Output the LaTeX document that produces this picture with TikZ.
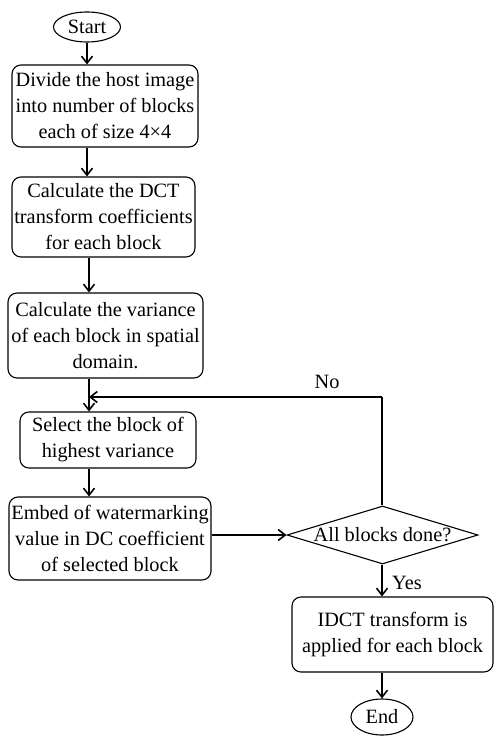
\documentclass[tikz,border=0pt]{standalone}
\usepackage{fontspec}
\setmainfont{Liberation Serif}
\usetikzlibrary{shapes.geometric,arrows.meta}
\begin{document}
\begin{tikzpicture}[x=1pt,y=-1pt,
  font=\fontsize{20.3}{26}\selectfont,
  stepbox/.style={draw,rounded corners=9pt,line width=1.1pt,align=center,inner sep=0pt},
  term/.style={draw,ellipse,line width=1.1pt,inner sep=0pt},
  arr/.style={line width=2.2pt,-{Straight Barb[length=7pt,width=11pt,line width=1.6pt]}},
  ln/.style={line width=2.2pt}]
\useasboundingbox (0,0) rectangle (494,738);
\node[term,minimum width=67pt,minimum height=30pt] (start) at (87,27) {Start};
\node[stepbox,minimum width=186pt,minimum height=82pt] (b1) at (105,106)
  {Divide the host image\\into number of blocks\\each of size 4×4};
\node[stepbox,minimum width=183pt,minimum height=80pt] (b2) at (103.5,217)
  {Calculate the DCT\\transform coefficients\\for each block};
\node[stepbox,minimum width=195pt,minimum height=85pt] (b3) at (105.5,335.5)
  {Calculate the variance\\of each block in spatial\\domain.};
\node[stepbox,minimum width=176pt,minimum height=56pt] (b4) at (108,440)
  {Select the block of\\highest variance};
\node[stepbox,minimum width=202pt,minimum height=83pt] (b5) at (110,538.5)
  {Embed of watermarking\\value in DC coefficient\\of selected block};
\node[diamond,draw,line width=1.1pt,inner sep=0pt,minimum width=191pt,minimum height=58pt,
  label={center:All blocks done?}] (d) at (382.5,535) {};
\node[stepbox,minimum width=201pt,minimum height=75pt] (b6) at (392.5,634.5)
  {IDCT transform is\\applied for each block};
\node[term,minimum width=62pt,minimum height=36pt] (end) at (382,717) {End};
\coordinate (j) at (89,397);
\coordinate (c) at (382,397);
\draw[arr] (start.south) -- (start.south |- b1.north);
\draw[arr] (b1.south -| start.south) -- (b2.north -| start.south);
\draw[arr] (b2.south -| j) -- (b3.north -| j);
\draw[arr] (b3.south -| j) -- (b4.north -| j);
\draw[arr] (b4.south -| j) -- (b5.north -| j);
\draw[arr] (b5.east |- d.west) -- (d.west);
\draw[ln] (d.north -| c) -- (c);
\draw[arr] (c) -- (j);
\draw[arr] (d.south -| c) -- (b6.north -| c);
\draw[arr] (b6.south -| end.north) -- (end.north);
\node (no) at (327,382) {No};
\node (yes) at (407,583) {Yes};
\end{tikzpicture}
\end{document}
